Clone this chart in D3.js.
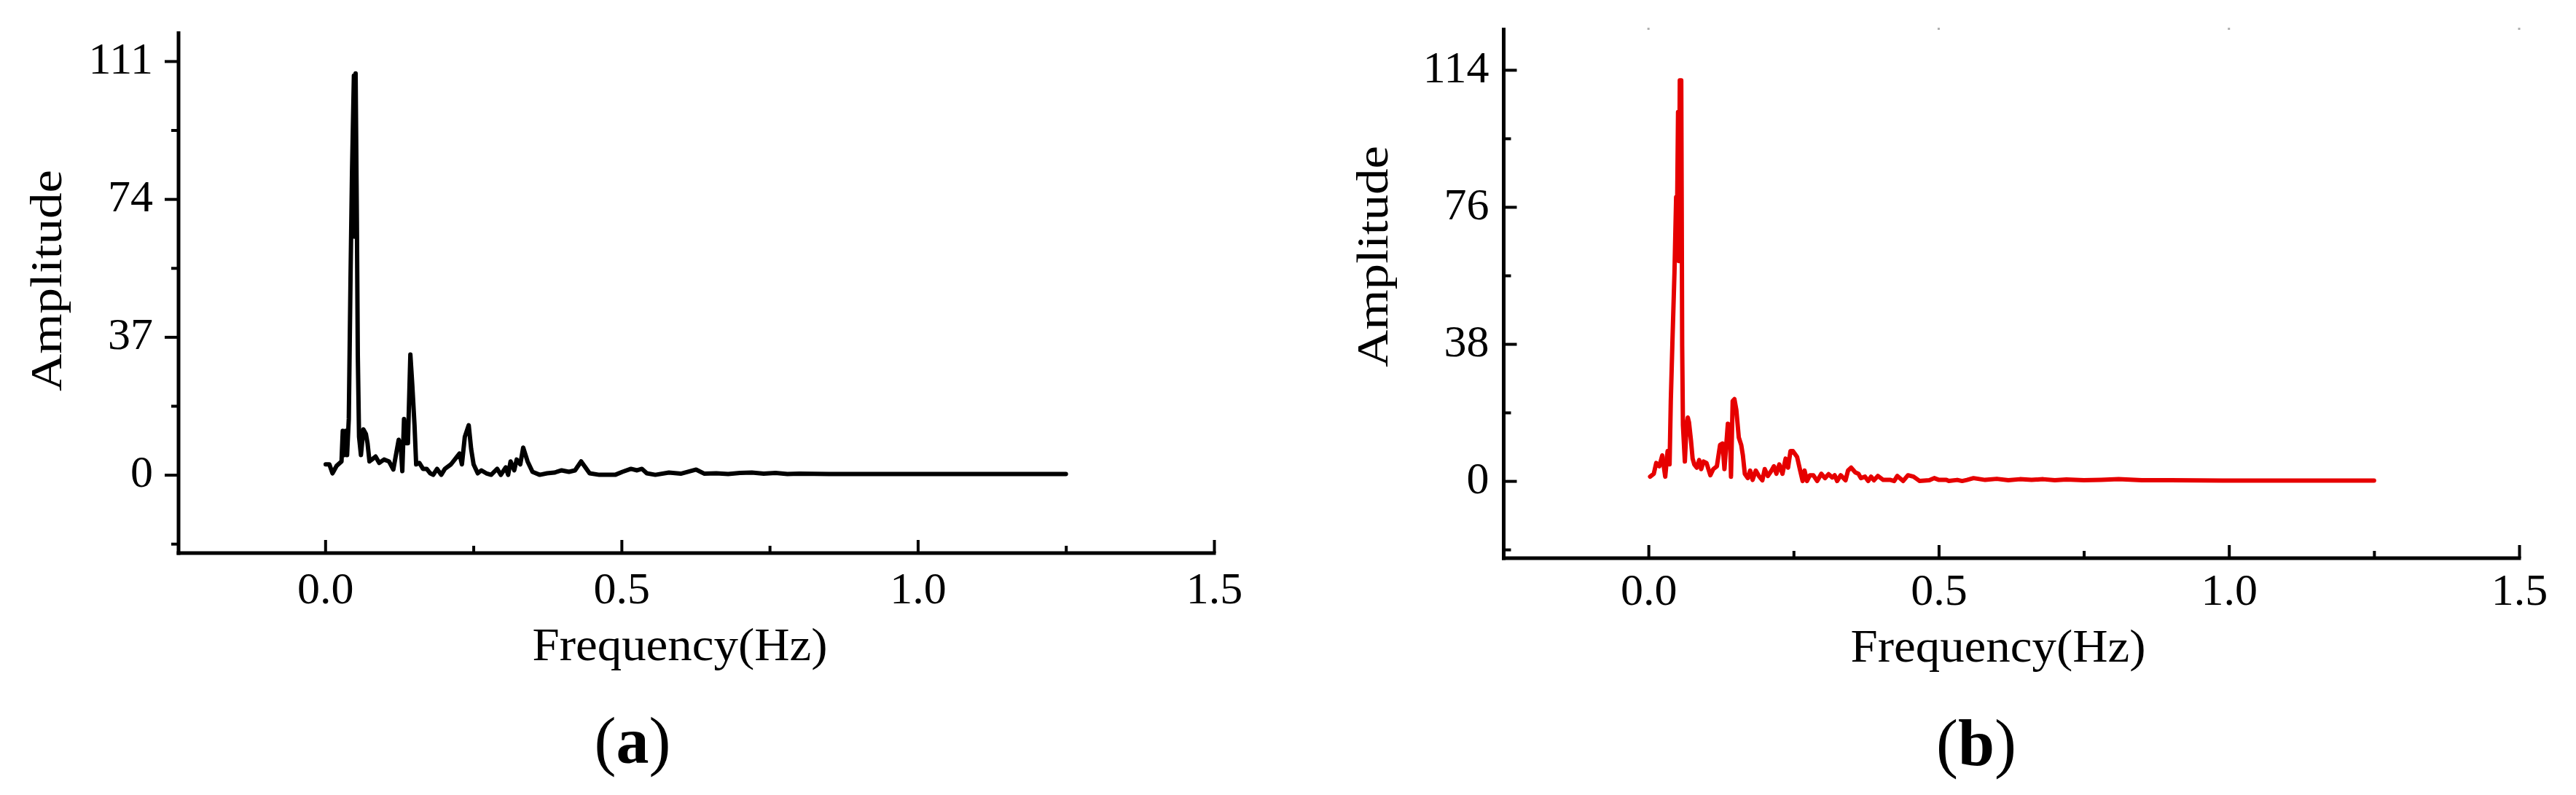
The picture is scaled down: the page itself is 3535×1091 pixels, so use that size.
<!DOCTYPE html>
<html>
<head>
<meta charset="utf-8">
<script src="https://cdn.jsdelivr.net/npm/d3@7/dist/d3.min.js"></script>
<style>
  html, body { margin: 0; padding: 0; background: #fff; }
  svg { display: block; }
  text { font-family: "Liberation Serif", "Times New Roman", serif; fill: #000; }
</style>
</head>
<body>
<svg id="chart" width="3535" height="1091"></svg>
<script>
// ---------------- data ----------------
const xTicks = [0.0, 0.5, 1.0, 1.5];
const xMinorTicks = [0.25, 0.75, 1.25];
const xTickLabels = ["0.0", "0.5", "1.0", "1.5"];

const yTicksA = [0, 37, 74, 111];
const yMinorTicksA = [-18.5, 18.5, 55.5, 92.5];
const yTicksB = [0, 38, 76, 114];
const yMinorTicksB = [-19, 19, 57, 95];

const xTitle = "Frequency(Hz)";
const yTitle = "Amplitude";
const panelLabels = ["a", "b"];

// panel (a) spectrum
const freqA = [0.0008, 0.0070, 0.0123, 0.0193, 0.0275, 0.0296, 0.0328, 0.0345, 0.0369, 0.0398,
  0.0427, 0.0452, 0.0484, 0.0497, 0.0513, 0.0534, 0.0550, 0.0571, 0.0603, 0.0644,
  0.0686, 0.0714, 0.0747, 0.0788, 0.0850, 0.0911, 0.0993, 0.1076, 0.1149, 0.1240,
  0.1273, 0.1301, 0.1330, 0.1363, 0.1396, 0.1437, 0.1470, 0.1507, 0.1535, 0.1589,
  0.1650, 0.1712, 0.1773, 0.1823, 0.1888, 0.1958, 0.2020, 0.2122, 0.2225, 0.2266,
  0.2307, 0.2356, 0.2422, 0.2463, 0.2504, 0.2574, 0.2635, 0.2718, 0.2800, 0.2902,
  0.2964, 0.3046, 0.3087, 0.3128, 0.3190, 0.3231, 0.3292, 0.3341, 0.3415, 0.3498,
  0.3621, 0.3744, 0.3867, 0.3990, 0.4113, 0.4216, 0.4319, 0.4462, 0.4626, 0.4770,
  0.4893, 0.5016, 0.5160, 0.5263, 0.5345, 0.5427, 0.5571, 0.580, 0.600, 0.626,
  0.640, 0.660, 0.680, 0.700, 0.720, 0.740, 0.760, 0.780, 0.800, 0.850,
  0.900, 0.950, 1.000, 1.050, 1.100, 1.150, 1.200, 1.250];
const ampA = [2.8, 2.8, 0.4, 2.4, 3.6, 11.8, 5.3, 11.8, 5.3, 15.0,
  52.5, 81.0, 107.1, 63.9, 107.7, 68.8, 32.1, 10.2, 5.3, 12.2,
  11.0, 8.5, 3.6, 4.1, 4.9, 3.2, 4.1, 3.6, 1.4, 9.4,
  8.1, 1.0, 15.0, 8.5, 8.5, 32.3, 24.0, 13.4, 2.8, 3.2,
  1.6, 1.6, 0.4, 0.0, 1.6, 0.0, 1.6, 2.8, 4.9, 5.7,
  2.8, 10.2, 13.3, 6.9, 2.8, 0.4, 1.2, 0.4, 0.0, 1.6,
  0.0, 2.0, 0.0, 3.6, 1.2, 4.1, 2.8, 7.3, 3.6, 0.8,
  0.0, 0.4, 0.6, 1.2, 0.8, 1.2, 3.6, 0.4, 0.0, 0.0,
  0.0, 0.8, 1.6, 1.2, 1.6, 0.4, 0.0, 0.6, 0.3, 1.4,
  0.3, 0.4, 0.2, 0.5, 0.6, 0.3, 0.5, 0.2, 0.3, 0.2,
  0.2, 0.2, 0.2, 0.2, 0.2, 0.2, 0.2, 0.2];

// panel (b) spectrum
const freqB = [0.0029, 0.0092, 0.0134, 0.0188, 0.0238, 0.0289, 0.0330, 0.0364, 0.0385, 0.0414,
  0.0448, 0.0477, 0.0489, 0.0510, 0.0523, 0.0540, 0.0565, 0.0573, 0.0581, 0.0594,
  0.0627, 0.0657, 0.0678, 0.0698, 0.0732, 0.0761, 0.0790, 0.0832, 0.0874, 0.0908,
  0.0949, 0.1000, 0.1066, 0.1117, 0.1179, 0.1234, 0.1276, 0.1309, 0.1368, 0.1401,
  0.1422, 0.1451, 0.1481, 0.1514, 0.1556, 0.1598, 0.1627, 0.1660, 0.1711, 0.1752,
  0.1794, 0.1849, 0.1911, 0.1962, 0.2003, 0.2058, 0.2120, 0.2162, 0.2204, 0.2254,
  0.2309, 0.2363, 0.2405, 0.2447, 0.2488, 0.2560, 0.2614, 0.2656, 0.2689, 0.2731,
  0.2781, 0.2840, 0.2907, 0.2978, 0.3041, 0.3103, 0.3166, 0.3208, 0.3250, 0.3312,
  0.3396, 0.3438, 0.3492, 0.3563, 0.3618, 0.3660, 0.3731, 0.3785, 0.3835, 0.3885,
  0.3952, 0.4044, 0.4170, 0.4233, 0.4287, 0.4387, 0.4471, 0.4567, 0.4672, 0.4839,
  0.4923, 0.5006, 0.5132, 0.5174, 0.5320, 0.5404, 0.5487, 0.560, 0.580, 0.600,
  0.620, 0.640, 0.660, 0.680, 0.700, 0.720, 0.750, 0.780, 0.810, 0.850,
  0.900, 1.000, 1.100, 1.200, 1.250];
const ampB = [1.2, 2.0, 5.0, 4.1, 7.1, 1.2, 8.3, 4.6, 22.2, 39.1,
  57.6, 78.7, 67.7, 102.3, 61.0, 111.1, 111.1, 76.1, 37.4, 15.5,
  5.4, 15.5, 17.6, 16.3, 11.3, 6.2, 4.6, 3.7, 5.8, 3.3,
  5.4, 5.0, 1.6, 3.3, 4.1, 10.0, 10.4, 3.3, 15.9, 15.5,
  1.2, 22.2, 22.7, 19.7, 12.1, 10.0, 7.1, 2.0, 0.8, 2.9,
  0.3, 2.9, 1.2, 0.2, 3.3, 1.4, 2.9, 4.1, 2.0, 4.6,
  2.0, 6.2, 3.7, 8.3, 8.3, 6.7, 2.9, 0.0, 2.9, 0.0,
  1.6, 1.6, 0.0, 2.0, 0.8, 1.9, 1.0, 1.6, 0.0, 1.6,
  0.2, 2.9, 3.7, 2.4, 2.0, 0.8, 1.2, 0.0, 1.2, 0.2,
  1.4, 0.3, 0.3, 0.0, 1.4, 0.0, 1.6, 1.2, 0.0, 0.2,
  0.8, 0.3, 0.3, 0.0, 0.3, 0.0, 0.3, 0.8, 0.3, 0.6,
  0.2, 0.5, 0.3, 0.5, 0.2, 0.4, 0.2, 0.3, 0.5, 0.2,
  0.2, 0.1, 0.1, 0.1, 0.1];

// ---------------- drawing ----------------
const svg = d3.select("#chart");

const panels = [
  {
    freq: freqA, amp: ampA, color: "#000000", lineWidth: 6,
    xRange: [243, 1666], yRange: [759, 43], yDomain: [-21, 119],
    yTicks: yTicksA, yMinor: yMinorTicksA, yInward: false,
    axisX: 245, axisY: 759, yTop: 43,
    yLabelPad: 16, xLabelBase: 828,
    xTitleX: 933, xTitleY: 906, yTitleX: 84, yTitleY: 385,
    panelX: 868, panelY: 1047, label: panelLabels[0], topDots: false
  },
  {
    freq: freqB, amp: ampB, color: "#e60000", lineWidth: 6,
    xRange: [2063, 3457], yRange: [766, 38], yDomain: [-21.4, 125.7],
    yTicks: yTicksB, yMinor: yMinorTicksB, yInward: true,
    axisX: 2063.5, axisY: 766, yTop: 38,
    yLabelPad: 20, xLabelBase: 830,
    xTitleX: 2742, xTitleY: 908, yTitleX: 1904, yTitleY: 352,
    panelX: 2712, panelY: 1050, label: panelLabels[1], topDots: true
  }
];

panels.forEach(p => {
  const x = d3.scaleLinear().domain([-0.25, 1.5]).range(p.xRange);
  const y = d3.scaleLinear().domain(p.yDomain).range(p.yRange);
  const g = svg.append("g");

  // series line
  const pts = p.freq.map((f, i) => [f, p.amp[i]]);
  g.append("path")
    .datum(pts)
    .attr("fill", "none")
    .attr("stroke", p.color)
    .attr("stroke-width", p.lineWidth)
    .attr("stroke-linejoin", "round")
    .attr("stroke-linecap", "round")
    .attr("d", d3.line().x(d => x(d[0])).y(d => y(d[1])));

  // x axis (ticks inward)
  const xAxis = d3.axisBottom(x)
    .tickValues(xTicks)
    .tickFormat((d, i) => xTickLabels[i])
    .tickSize(-18).tickSizeOuter(0).tickPadding(25);
  const gx = g.append("g").attr("transform", `translate(0,${p.axisY})`).call(xAxis);
  gx.select(".domain").remove();
  gx.selectAll(".tick line").attr("stroke", "#000").attr("stroke-width", 4);
  gx.selectAll(".tick text")
    .attr("font-size", 62)
    .attr("font-family", "Liberation Serif")
    .attr("dy", null)
    .attr("y", p.xLabelBase - p.axisY);

  const xMinorAxis = d3.axisBottom(x).tickValues(xMinorTicks).tickFormat("")
    .tickSize(-10).tickSizeOuter(0);
  const gxm = g.append("g").attr("transform", `translate(0,${p.axisY})`).call(xMinorAxis);
  gxm.select(".domain").remove();
  gxm.selectAll(".tick line").attr("stroke", "#000").attr("stroke-width", 4);

  // y axis
  const yAxis = d3.axisLeft(y)
    .tickValues(p.yTicks)
    .tickSize(p.yInward ? -18 : 19).tickSizeOuter(0).tickPadding(p.yLabelPad);
  const gy = g.append("g").attr("transform", `translate(${p.axisX},0)`).call(yAxis);
  gy.select(".domain").remove();
  gy.selectAll(".tick line").attr("stroke", "#000").attr("stroke-width", 4);
  gy.selectAll(".tick text")
    .attr("font-size", 62)
    .attr("font-family", "Liberation Serif")
    .attr("dy", "0.26em");

  const yMinorAxis = d3.axisLeft(y).tickValues(p.yMinor).tickFormat("")
    .tickSize(p.yInward ? -10 : 10).tickSizeOuter(0);
  const gym = g.append("g").attr("transform", `translate(${p.axisX},0)`).call(yMinorAxis);
  gym.select(".domain").remove();
  gym.selectAll(".tick line").attr("stroke", "#000").attr("stroke-width", 4);

  // axis lines
  g.append("line")
    .attr("x1", p.axisX).attr("x2", p.axisX)
    .attr("y1", p.yTop).attr("y2", p.axisY + 2.5)
    .attr("stroke", "#000").attr("stroke-width", 5);
  g.append("line")
    .attr("x1", p.axisX - 2.5).attr("x2", x(1.5) + 2.5)
    .attr("y1", p.axisY).attr("y2", p.axisY)
    .attr("stroke", "#000").attr("stroke-width", 5);

  // faint top marks in panel (b)
  if (p.topDots) {
    g.selectAll("rect.topdot").data(xTicks).enter().append("rect")
      .attr("class", "topdot")
      .attr("x", d => x(d) - 1.5).attr("y", p.yTop)
      .attr("width", 3).attr("height", 3)
      .attr("fill", "#b0b0b0");
  }

  // titles
  g.append("text")
    .attr("x", p.xTitleX).attr("y", p.xTitleY)
    .attr("text-anchor", "middle")
    .attr("font-size", 64)
    .attr("textLength", 405).attr("lengthAdjust", "spacingAndGlyphs")
    .text(xTitle);

  g.append("text")
    .attr("transform", `translate(${p.yTitleX},${p.yTitleY}) rotate(-90)`)
    .attr("text-anchor", "middle")
    .attr("font-size", 62)
    .attr("textLength", 304).attr("lengthAdjust", "spacingAndGlyphs")
    .text(yTitle);

  const lab = g.append("text")
    .attr("x", p.panelX).attr("y", p.panelY)
    .attr("text-anchor", "middle")
    .attr("font-size", 90);
  lab.append("tspan").text("(");
  lab.append("tspan").attr("font-weight", "bold").text(p.label);
  lab.append("tspan").text(")");
});
</script>
</body>
</html>
